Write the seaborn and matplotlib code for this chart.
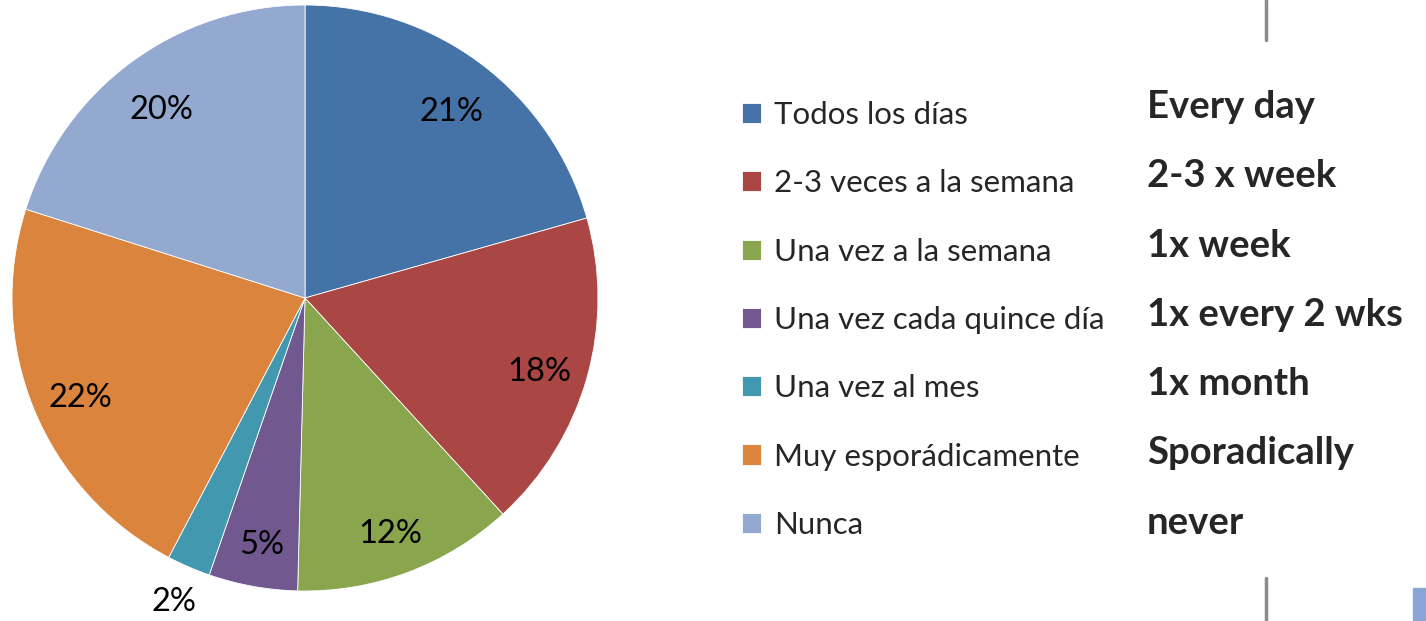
import numpy as np
import matplotlib.pyplot as plt
import seaborn as sns
from matplotlib.lines import Line2D
from matplotlib.patches import Rectangle

# --- dati ---
categorie = ['Todos los días', '2-3 veces a la semana', 'Una vez a la semana',
             'Una vez cada quince día', 'Una vez al mes', 'Muy esporádicamente', 'Nunca']
inglese = ['Every day', '2-3 x week', '1x week', '1x every 2 wks',
           '1x month', 'Sporadically', 'never']
percentuali = [20.6, 17.6, 12.2, 4.9, 2.4, 22.2, 20.1]
colori = ['#4572A7', '#AA4643', '#89A54E', '#71588F', '#4198AF', '#DB843D', '#93A9CF']

sns.set_style('white')
plt.rcParams['font.family'] = ['Lato', 'DejaVu Sans']

fig = plt.figure(figsize=(14.26, 6.21), dpi=100)
ax = fig.add_axes([12 / 1426, 30 / 621, 586 / 1426, 586 / 621])

wedges, testi, pct = ax.pie(percentuali, colors=colori, startangle=90, counterclock=False,
                            autopct='%.0f%%', pctdistance=0.83,
                            wedgeprops=dict(edgecolor='white', linewidth=0.6),
                            textprops=dict(fontsize=23.5, color='black'))
ax.set_xlim(-1, 1)
ax.set_ylim(-1, 1)
ax.set_aspect('equal')

# etichette un po' più in basso, come in Excel
for t in pct:
    x, y = t.get_position()
    t.set_position((x, y - 0.027))

# la fetta piccola (2%) ha l'etichetta fuori
w = wedges[4]
ang = np.deg2rad((w.theta1 + w.theta2) / 2)
pct[4].set_position((1.13 * np.cos(ang), 1.13 * np.sin(ang)))
pct[4].set_clip_on(False)

fig.legend(wedges, categorie, loc='upper left', bbox_to_anchor=(742 / 1426, 1 - 101 / 621),
           frameon=False, fontsize=22.5, handlelength=0.62, handleheight=0.62,
           handletextpad=0.4, labelspacing=1.29, borderpad=0, borderaxespad=0)

y0 = 1 - 107 / 621
passo = 69.3 / 621
for i, t in enumerate(inglese):
    fig.text(1147 / 1426, y0 - i * passo, t, fontsize=27.5, fontweight='bold', va='center', ha='left')

# linee grigie decorative
fig.add_artist(Line2D([1266 / 1426] * 2, [1, 1 - 40 / 621], color='#8c8c8c', lw=2.5))
fig.add_artist(Line2D([1266 / 1426] * 2, [0, 1 - 578 / 621], color='#8c8c8c', lw=2.5))
fig.add_artist(Rectangle((1413 / 1426, 0), 13 / 1426, 33 / 621, color='#8aa6d6',
                         transform=fig.transFigure))

fig.savefig('out.png', dpi=100)
